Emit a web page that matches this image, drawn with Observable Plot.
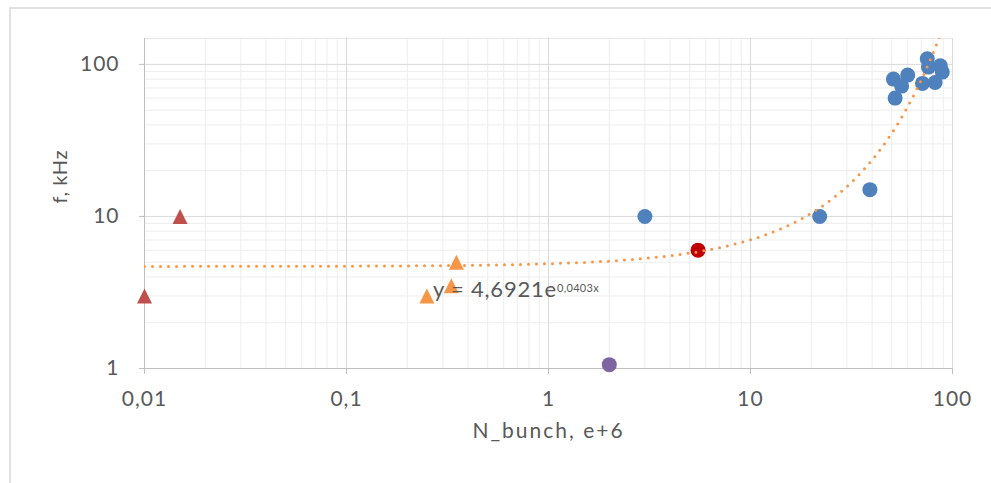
<!DOCTYPE html>
<html><head><meta charset="utf-8">
<script src="https://cdn.jsdelivr.net/npm/d3@7"></script>
<script src="https://cdn.jsdelivr.net/npm/@observablehq/plot@0.6"></script>
<style>
html,body{margin:0;padding:0;background:#fff;}
#wrap{position:relative;width:991px;height:483px;overflow:hidden;background:#fff;}
#chart{position:absolute;left:0;top:0;}
#border{position:absolute;left:9px;top:7px;width:1200px;height:800px;border:2px solid #e2e2e2;box-sizing:border-box;pointer-events:none;}
</style></head><body>
<div id="wrap"><div id="chart"></div><div id="border"></div></div>
<script>
// ---- data ----
const blueX = [3, 22, 39, 51, 60, 52, 56, 75, 87, 89, 71, 82, 76];
const blueY = [10, 10, 15, 80, 85, 60, 72, 109, 98, 89, 75, 76, 96];
const darkRedX = [5.5];
const darkRedY = [6];
const purpleX = [2];
const purpleY = [1.06];
const redTriX = [0.01, 0.015];
const redTriY = [3, 10];
const orangeTriX = [0.25, 0.33, 0.35];
const orangeTriY = [3, 3.5, 5];
// exponential trendline shown on the chart: y = 4,6921 e^(0,0403x)
const trendA = 4.6921;
const trendB = 0.0403;
const trendLabelMain = "y = 4,6921e";
const trendLabelSup = "0,0403x";
const xTicks = [0.01, 0.1, 1, 10, 100];
const xTickLabels = ["0,01", "0,1", "1", "10", "100"];
const yTicks = [1, 10, 100];
const yTickLabels = ["1", "10", "100"];
const xTitle = "N_bunch, e+6";
const yTitle = "f, kHz";

// ---- build ----
const pts = (xs, ys) => xs.map((x, i) => ({x, y: ys[i]}));
const minor = (decades) => decades.flatMap(d => d3.range(2, 10).map(k => d * k));
const xMinor = minor([0.01, 0.1, 1, 10]);
const yMinor = minor([1, 10]);
const trend = d3.range(0, 401).map(i => {
  const x = Math.pow(10, -2 + i * 4 / 400);
  return {x, y: trendA * Math.exp(trendB * x)};
});
const tri = {
  draw(context, size) {
    const r = Math.sqrt(size / Math.PI);
    context.moveTo(0, -r);
    context.lineTo(r, r);
    context.lineTo(-r, r);
    context.closePath();
  }
};
const fontSize = 21;
const plot = Plot.plot({
  width: 991, height: 483,
  marginLeft: 144, marginRight: 39, marginTop: 38, marginBottom: 115,
  style: {fontFamily: "Lato, 'Liberation Sans', sans-serif", color: "#595959", background: "transparent"},
  x: {type: "log", domain: [0.01, 100]},
  y: {type: "log", domain: [1, 148]},
  marks: [
    Plot.frame({stroke: "#e8e8e8"}),
    Plot.ruleX(xMinor, {stroke: "#ededed"}),
    Plot.ruleY(yMinor, {stroke: "#ededed"}),
    Plot.ruleX(xTicks, {stroke: "#d9d9d9"}),
    Plot.ruleY(yTicks, {stroke: "#d9d9d9"}),
    Plot.ruleX([0.01], {stroke: "#bfbfbf"}),
    Plot.ruleY([1], {stroke: "#bfbfbf"}),
    Plot.axisX({ticks: xTicks, tickFormat: d => xTickLabels[xTicks.indexOf(d)], tickSize: 6, tickPadding: 17, stroke: "#bfbfbf", fill: "#595959", fontSize, label: null}),
    Plot.axisY({ticks: yTicks, tickFormat: d => yTickLabels[yTicks.indexOf(d)], tickSize: 5, tickPadding: 20, stroke: "#bfbfbf", fill: "#595959", fontSize, label: null}),
    Plot.text([xTitle], {frameAnchor: "bottom", dy: 69, fontSize, fill: "#595959"}),
    Plot.text([yTitle], {frameAnchor: "left", dx: -84, rotate: -90, fontSize: 20, fill: "#595959"}),
    Plot.dot(pts(redTriX, redTriY), {x: "x", y: "y", symbol: tri, r: 7.5, fill: "#C0504D"}),
    Plot.dot(pts(orangeTriX, orangeTriY), {x: "x", y: "y", symbol: tri, r: 7.5, fill: "#F79646"}),
    Plot.dot(pts(blueX, blueY), {x: "x", y: "y", r: 7.5, fill: "#4F81BD"}),
    Plot.dot(pts(darkRedX, darkRedY), {x: "x", y: "y", r: 7.5, fill: "#C00000"}),
    Plot.dot(pts(purpleX, purpleY), {x: "x", y: "y", r: 7.5, fill: "#8064A2"}),
    Plot.line(trend, {x: "x", y: "y", stroke: "#F79646", strokeWidth: 3, strokeDasharray: "0,8", strokeLinecap: "round", clip: true}),
    Plot.text([{x: 0.268, y: 3.28}], {x: "x", y: "y", text: () => trendLabelMain, textAnchor: "start", fontSize: 22, fill: "#595959"})
  ]
});
document.getElementById("chart").appendChild(plot);
const svg = d3.select(plot);
svg.selectAll("text").each(function() {
  const s = this.textContent;
  if (xTickLabels.includes(s) || yTickLabels.includes(s)) d3.select(this).attr("letter-spacing", "1px");
  else if (s === xTitle) d3.select(this).attr("letter-spacing", "2px");
  else if (s === yTitle) d3.select(this).attr("letter-spacing", "0.5px");
});
svg.selectAll("text").filter(function() { return this.textContent === trendLabelMain; })
  .each(function() {
    const t = d3.select(this).attr("letter-spacing", "0.8px");
    t.append("tspan").attr("dy", "-0.5em").attr("font-size", 11).attr("letter-spacing", "0.3px").text(trendLabelSup);
  });
</script>
</body></html>
